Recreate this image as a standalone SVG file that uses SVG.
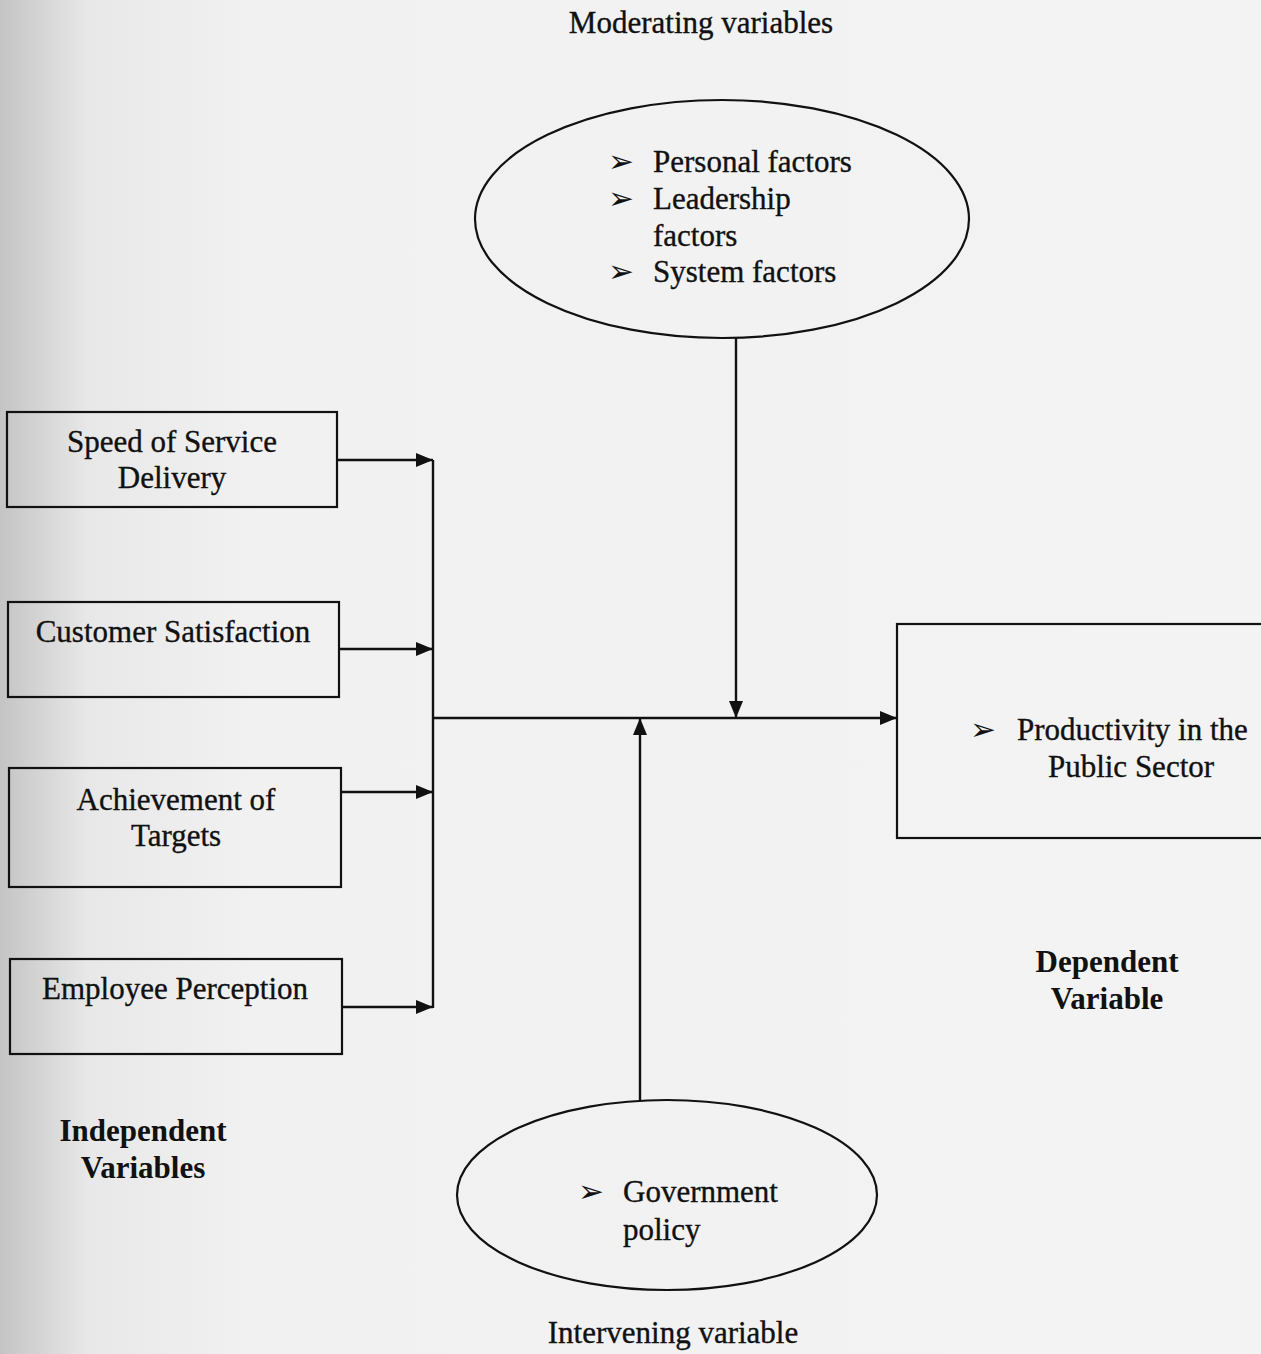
<svg xmlns="http://www.w3.org/2000/svg" width="1261" height="1354" viewBox="0 0 1261 1354">
<defs>
<linearGradient id="bg" x1="0" y1="0" x2="1" y2="0">
<stop offset="0" stop-color="#c4c4c4"/>
<stop offset="0.07" stop-color="#e8e8e8"/>
<stop offset="0.2" stop-color="#f1f1f1"/>
<stop offset="1" stop-color="#f3f3f3"/>
</linearGradient>
<marker id="ah" markerUnits="userSpaceOnUse" markerWidth="18" markerHeight="14" refX="17" refY="7" orient="auto">
<path d="M0,0 L17,7 L0,14 z" fill="#111"/>
</marker>
<style>
.t{font-family:"Liberation Serif","Times New Roman",serif;font-size:31px;fill:#111;stroke:#111;stroke-width:0.35}
.b{font-family:"Liberation Serif","Times New Roman",serif;font-size:31px;font-weight:bold;fill:#111}
.bul{font-family:"DejaVu Sans",sans-serif;font-size:31px;fill:#111}
.box{fill:none;stroke:#111;stroke-width:2.2}
.ell{fill:none;stroke:#111;stroke-width:2.2}
.ln{fill:none;stroke:#111;stroke-width:2.4}
.ar{fill:none;stroke:#111;stroke-width:2.4;marker-end:url(#ah)}
</style>
</defs>
<rect x="0" y="0" width="1261" height="1354" fill="url(#bg)"/>

<text class="t" x="701" y="33" text-anchor="middle">Moderating variables</text>
<text class="t" x="673" y="1343" text-anchor="middle">Intervening variable</text>

<g id="connectors">
<line class="ar" x1="337" y1="460" x2="433" y2="460"/>
<line class="ar" x1="339" y1="649" x2="433" y2="649"/>
<line class="ar" x1="341" y1="792" x2="433" y2="792"/>
<line class="ar" x1="342" y1="1007" x2="433" y2="1007"/>
<line class="ln" x1="433" y1="460" x2="433" y2="1008"/>
<line class="ar" x1="432" y1="718" x2="897" y2="718"/>
<line class="ar" x1="736" y1="338" x2="736" y2="718"/>
<line class="ar" x1="640" y1="1100" x2="640" y2="718"/>
</g>

<g id="speed">
<rect class="box" x="7" y="412" width="330" height="95"/>
<text class="t" x="172" y="452" text-anchor="middle">Speed of Service</text>
<text class="t" x="172" y="488" text-anchor="middle">Delivery</text>
</g>
<g id="customer">
<rect class="box" x="8" y="602" width="331" height="95"/>
<text class="t" x="173" y="642" text-anchor="middle">Customer Satisfaction</text>
</g>
<g id="achievement">
<rect class="box" x="9" y="768" width="332" height="119"/>
<text class="t" x="176" y="810" text-anchor="middle">Achievement of</text>
<text class="t" x="176" y="846" text-anchor="middle">Targets</text>
</g>
<g id="employee">
<rect class="box" x="10" y="959" width="332" height="95"/>
<text class="t" x="175" y="999" text-anchor="middle">Employee Perception</text>
</g>
<g id="independent-label">
<text class="b" x="143" y="1141" text-anchor="middle">Independent</text>
<text class="b" x="143" y="1178" text-anchor="middle">Variables</text>
</g>

<g id="moderating">
<ellipse class="ell" cx="722" cy="219" rx="247" ry="119"/>
<text class="bul" x="608" y="172">➢</text>
<text class="t" x="653" y="172">Personal factors</text>
<text class="bul" x="608" y="209">➢</text>
<text class="t" x="653" y="209">Leadership</text>
<text class="t" x="653" y="246">factors</text>
<text class="bul" x="608" y="282">➢</text>
<text class="t" x="653" y="282">System factors</text>
</g>

<g id="intervening">
<ellipse class="ell" cx="667" cy="1195" rx="210" ry="95"/>
<text class="bul" x="578" y="1202">➢</text>
<text class="t" x="623" y="1202">Government</text>
<text class="t" x="623" y="1240">policy</text>
</g>

<g id="dependent">
<rect class="box" x="897" y="624" width="400" height="214"/>
<text class="bul" x="970" y="740">➢</text>
<text class="t" x="1017" y="740">Productivity in the</text>
<text class="t" x="1131" y="777" text-anchor="middle">Public Sector</text>
</g>
<g id="dependent-label">
<text class="b" x="1107" y="972" text-anchor="middle">Dependent</text>
<text class="b" x="1107" y="1009" text-anchor="middle">Variable</text>
</g>
</svg>
